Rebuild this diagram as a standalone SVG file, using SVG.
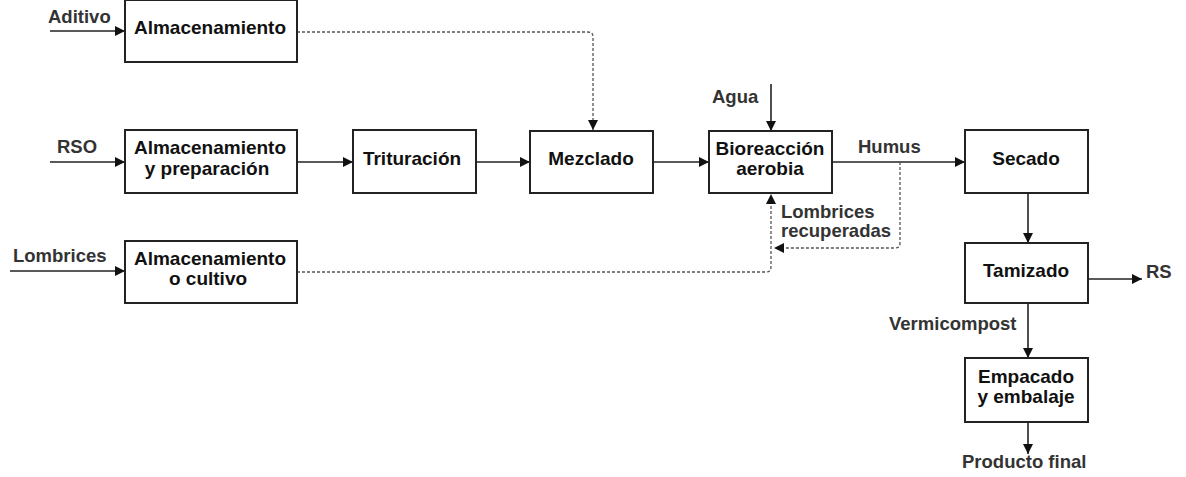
<svg xmlns="http://www.w3.org/2000/svg" width="1186" height="477" viewBox="0 0 1186 477">
<style>
.box{fill:#fff;stroke:#222;stroke-width:2}
.t{font-family:"Liberation Sans",Arial,sans-serif;font-weight:bold;font-size:19px;fill:#111;text-anchor:middle}
.l{font-family:"Liberation Sans",Arial,sans-serif;font-weight:bold;font-size:18.5px;fill:#333}
.c{fill:none;stroke:#222;stroke-width:1.6}
.d{fill:none;stroke:#555;stroke-width:1.3;stroke-dasharray:3 2}
</style>
<defs>
<marker id="ah" viewBox="0 0 10 10" refX="10" refY="5" markerWidth="11" markerHeight="10" markerUnits="userSpaceOnUse" orient="auto">
<path d="M0,0 L10,5 L0,10 Z" fill="#111"/>
</marker>
</defs>
<g id="connectors">
<line class="c" x1="50" y1="31" x2="125" y2="31" marker-end="url(#ah)"/>
<line class="c" x1="50" y1="162" x2="125" y2="162" marker-end="url(#ah)"/>
<line class="c" x1="10" y1="271" x2="125" y2="271" marker-end="url(#ah)"/>
<line class="c" x1="297" y1="162" x2="353" y2="162" marker-end="url(#ah)"/>
<line class="c" x1="476" y1="162" x2="530" y2="162" marker-end="url(#ah)"/>
<line class="c" x1="653" y1="162" x2="709" y2="162" marker-end="url(#ah)"/>
<line class="c" x1="771" y1="84" x2="771" y2="131" marker-end="url(#ah)"/>
<line class="c" x1="832" y1="162" x2="965" y2="162" marker-end="url(#ah)"/>
<line class="c" x1="1028" y1="193" x2="1028" y2="243" marker-end="url(#ah)"/>
<line class="c" x1="1088" y1="279" x2="1142" y2="279" marker-end="url(#ah)"/>
<line class="c" x1="1028" y1="303" x2="1028" y2="358" marker-end="url(#ah)"/>
<line class="c" x1="1028" y1="422" x2="1028" y2="454" marker-end="url(#ah)"/>
<path class="d" d="M297,32 H588 Q593,32 593,37 V130" marker-end="url(#ah)"/>
<path class="d" d="M297,272 H766 Q771,272 771,267 V194" marker-end="url(#ah)"/>
<path class="d" d="M900,162 V243 Q900,248 895,248 H774" marker-end="url(#ah)"/>
</g>
<g id="labels">
<text class="l" x="48" y="23">Aditivo</text>
<text class="l" x="57" y="153">RSO</text>
<text class="l" x="13" y="262">Lombrices</text>
<text class="l" x="712" y="103">Agua</text>
<text class="l" x="858" y="153">Humus</text>
<text class="l" x="781" y="218">Lombrices</text>
<text class="l" x="781" y="237">recuperadas</text>
<text class="l" x="1146" y="278">RS</text>
<text class="l" x="889" y="330">Vermicompost</text>
<text class="l" x="962" y="468">Producto final</text>
</g>
<g id="n-almacenamiento">
<rect class="box" x="125" y="0" width="172" height="62"/>
<text class="t" x="210" y="34">Almacenamiento</text>
</g>
<g id="n-almacenamiento-preparacion">
<rect class="box" x="125" y="130" width="172" height="63"/>
<text class="t" x="210" y="154">Almacenamiento</text>
<text class="t" x="207" y="175">y preparación</text>
</g>
<g id="n-almacenamiento-cultivo">
<rect class="box" x="125" y="241" width="172" height="62"/>
<text class="t" x="210" y="265">Almacenamiento</text>
<text class="t" x="208" y="285">o cultivo</text>
</g>
<g id="n-trituracion">
<rect class="box" x="353" y="130" width="123" height="63"/>
<text class="t" x="412" y="165">Trituración</text>
</g>
<g id="n-mezclado">
<rect class="box" x="530" y="131" width="123" height="62"/>
<text class="t" x="591" y="165">Mezclado</text>
</g>
<g id="n-bioreaccion">
<rect class="box" x="709" y="131" width="123" height="62"/>
<text class="t" x="770" y="155">Bioreacción</text>
<text class="t" x="770" y="175">aerobia</text>
</g>
<g id="n-secado">
<rect class="box" x="965" y="130" width="123" height="63"/>
<text class="t" x="1026" y="165">Secado</text>
</g>
<g id="n-tamizado">
<rect class="box" x="965" y="243" width="123" height="60"/>
<text class="t" x="1026" y="277">Tamizado</text>
</g>
<g id="n-empacado">
<rect class="box" x="965" y="358" width="123" height="64"/>
<text class="t" x="1026" y="383">Empacado</text>
<text class="t" x="1026" y="403">y embalaje</text>
</g>
</svg>
